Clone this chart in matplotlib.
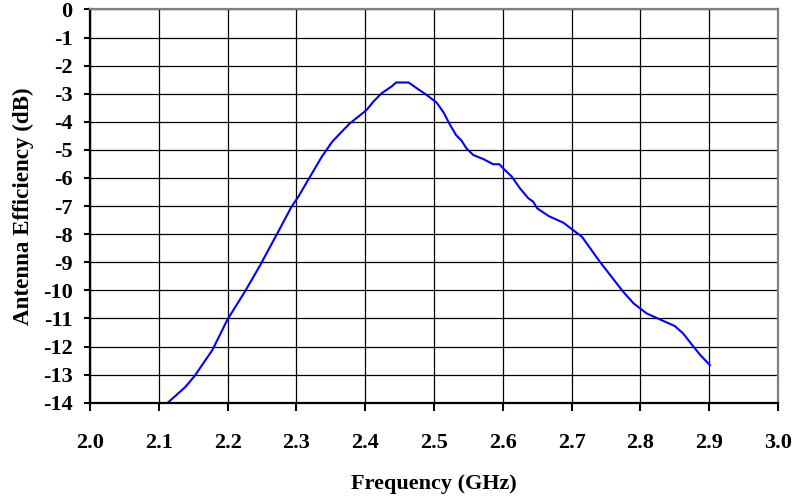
'''Antenna efficiency vs frequency'''
import matplotlib
matplotlib.use('Agg')
import matplotlib.pyplot as plt
import numpy as np

# Data
freq_ghz = [2.113, 2.139, 2.152, 2.178, 2.200, 2.225, 2.247, 2.271, 2.293,
            2.303, 2.317, 2.337, 2.352, 2.366, 2.378, 2.402, 2.412, 2.424,
            2.438, 2.445, 2.463, 2.477, 2.489, 2.504, 2.514, 2.522, 2.532,
            2.540, 2.547, 2.557, 2.572, 2.586, 2.595, 2.602, 2.613, 2.625,
            2.637, 2.644, 2.650, 2.667, 2.688, 2.702, 2.715, 2.741, 2.775,
            2.790, 2.809, 2.828, 2.850, 2.862, 2.877, 2.887, 2.901]
efficiency_db = [-14.0, -13.43, -13.05, -12.12, -11.03, -10.05, -9.12, -8.03, -7.02,
                 -6.66, -6.07, -5.24, -4.71, -4.35, -4.05, -3.58, -3.28, -2.98,
                 -2.75, -2.60, -2.60, -2.84, -3.04, -3.32, -3.67, -4.05, -4.47,
                 -4.67, -4.94, -5.18, -5.33, -5.51, -5.51, -5.69, -5.95, -6.37,
                 -6.72, -6.84, -7.08, -7.36, -7.59, -7.85, -8.09, -8.98, -10.05,
                 -10.46, -10.82, -11.03, -11.27, -11.53, -12.0, -12.3, -12.66]

x_ticks = np.round(np.arange(2.0, 3.01, 0.1), 1)
y_ticks = np.arange(0, -15, -1)

plt.rcParams['font.family'] = ['Liberation Serif', 'DejaVu Serif']
plt.rcParams['font.weight'] = 'bold'

fig = plt.figure(figsize=(7.95, 4.97), dpi=100)
ax = fig.add_axes([0.1132, 0.1897, 0.9786 - 0.1132, 0.981 - 0.1897])

ax.plot(freq_ghz, efficiency_db, color='#0000ff', lw=1.5)

ax.set_xlim(2.0, 3.0)
ax.set_ylim(-14, 0)
ax.set_xticks(x_ticks)
ax.set_xticklabels(['{:.1f}'.format(v) for v in x_ticks], fontsize=16, fontweight='bold')
ax.set_yticks(y_ticks)
ax.set_yticklabels([str(v) for v in y_ticks], fontsize=16, fontweight='bold')
ax.grid(True, color='black', lw=0.9)
ax.set_axisbelow(True)

ax.tick_params(axis='x', direction='out', length=5.8, width=1.5, pad=16)
ax.tick_params(axis='y', direction='out', length=4, width=1.5, pad=8.5)

for side in ['left', 'bottom']:
    ax.spines[side].set_linewidth(1.6)
    ax.spines[side].set_color('black')
for side in ['top', 'right']:
    ax.spines[side].set_linewidth(1.6)
    ax.spines[side].set_color('#808080')

ax.set_xlabel('Frequency (GHz)', fontsize=16, fontweight='bold', labelpad=15)
ax.set_ylabel('Antenna Efficiency (dB)', fontsize=16.6, fontweight='bold', labelpad=6.5)

fig.savefig('out.png', dpi=100)
